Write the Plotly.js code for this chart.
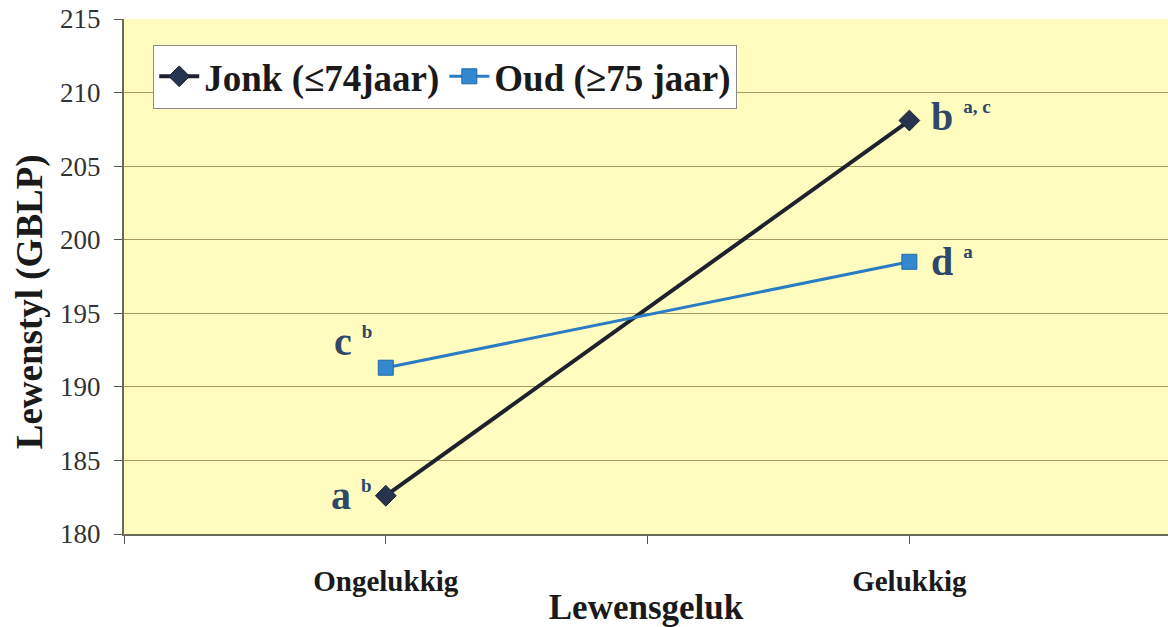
<!DOCTYPE html>
<html>
<head>
<meta charset="utf-8">
<script src="https://cdn.plot.ly/plotly-3.0.1.min.js"></script>
<style>
  html, body { margin: 0; padding: 0; background: #fff; overflow: hidden; }
  #chart { width: 1168px; height: 627px; }
</style>
</head>
<body>
<div id="chart"></div>
<script>
// categories on the x axis
const categories = ['Ongelukkig', 'Gelukkig'];

// mean GBLP score per group
const jonkValues = [182.6, 208.1];
const oudValues = [191.3, 198.5];

// significance letters next to each point
const jonkLetters = ['a', 'b'];
const jonkSup = ['b', 'a, c'];
const oudLetters = ['c', 'd'];
const oudSup = ['b', 'a'];

const yTicks = [180, 185, 190, 195, 200, 205, 210, 215];

const serif = '"Liberation Serif", "Times New Roman", serif';
const labelColor = '#2e4868';

const xIdx = categories.map((_, i) => i);

const jonkTrace = {
  x: xIdx,
  y: jonkValues,
  type: 'scatter',
  mode: 'lines+markers',
  name: '<b>Jonk (≤74jaar)</b>',
  line: { color: '#1e2230', width: 4 },
  marker: { symbol: 'diamond', size: 16, color: '#26344f', line: { color: '#1e2230', width: 1 } }
};

const oudTrace = {
  x: xIdx,
  y: oudValues,
  type: 'scatter',
  mode: 'lines+markers',
  name: '<b>Oud (≥75 jaar)</b>',
  line: { color: '#2a7cc4', width: 3 },
  marker: { symbol: 'square', size: 15, color: '#3388d0', line: { color: '#1f6aa8', width: 1 } }
};

// label placement relative to each point (pixels)
const jonkShift = [{ ax: 'right', dx: -12, dy: 0 }, { ax: 'left', dx: 20, dy: 4 }];
const oudShift = [{ ax: 'right', dx: -12, dy: 26 }, { ax: 'left', dx: 20, dy: 0 }];

function makeLabels(values, letters, sups, shifts) {
  return values.map((v, i) => ({
    x: xIdx[i],
    y: v,
    xref: 'x',
    yref: 'y',
    text: '<b>' + letters[i] + ' <sup><span style="font-size:19px">' + sups[i] + '</span></sup></b>',
    showarrow: false,
    xanchor: shifts[i].ax,
    yanchor: 'middle',
    xshift: shifts[i].dx,
    yshift: shifts[i].dy,
    font: { family: serif, size: 40, color: labelColor }
  }));
}

const annotations = [
  ...makeLabels(jonkValues, jonkLetters, jonkSup, jonkShift),
  ...makeLabels(oudValues, oudLetters, oudSup, oudShift),
  {
    // y axis title, sits a bit below the middle of the plot in the original
    x: -0.09,
    y: 0.45,
    xref: 'paper',
    yref: 'paper',
    text: '<b>Lewenstyl (GBLP)</b>',
    textangle: -90,
    showarrow: false,
    xanchor: 'center',
    yanchor: 'middle',
    font: { family: serif, size: 37, color: '#1a1a1a' }
  }
];

const layout = {
  width: 1168,
  height: 627,
  margin: { l: 124, r: 0, t: 19, b: 93 },
  paper_bgcolor: '#ffffff',
  plot_bgcolor: '#fffcc0',
  showlegend: true,
  legend: {
    orientation: 'h',
    x: 0.028,
    y: 0.95,
    xanchor: 'left',
    yanchor: 'top',
    bgcolor: '#ffffff',
    bordercolor: '#8a8a8a',
    borderwidth: 1,
    font: { family: serif, size: 37, color: '#1a1a1a' },
    itemwidth: 40,
    tracegroupgap: 0
  },
  xaxis: {
    range: [-0.5, 1.494],
    tickvals: [-0.5, 0, 0.5, 1, 1.5],
    ticktext: ['', '<b>' + categories[0] + '</b>', '', '<b>' + categories[1] + '</b>', ''],
    ticks: 'outside',
    ticklen: 8,
    tickcolor: '#555555',
    ticklabelstandoff: 12,
    showgrid: false,
    zeroline: false,
    showline: true,
    linecolor: '#6a6a5a',
    linewidth: 2,
    tickfont: { family: serif, size: 29, color: '#1a1a1a' },
    title: {
      text: '<b>Lewensgeluk</b>',
      font: { family: serif, size: 35, color: '#1a1a1a' },
      standoff: 0
    }
  },
  yaxis: {
    range: [180, 215],
    tickvals: yTicks,
    ticks: 'outside',
    ticklen: 8,
    tickcolor: '#555555',
    ticklabelstandoff: 8,
    showgrid: true,
    gridcolor: '#a89a62',
    gridwidth: 1,
    zeroline: false,
    showline: true,
    linecolor: '#6a6a5a',
    linewidth: 2,
    mirror: false,
    tickfont: { family: serif, size: 27, color: '#333333' }
  },
  annotations: annotations
};

Plotly.newPlot('chart', [jonkTrace, oudTrace], layout, { displayModeBar: false, staticPlot: true });
</script>
</body>
</html>
